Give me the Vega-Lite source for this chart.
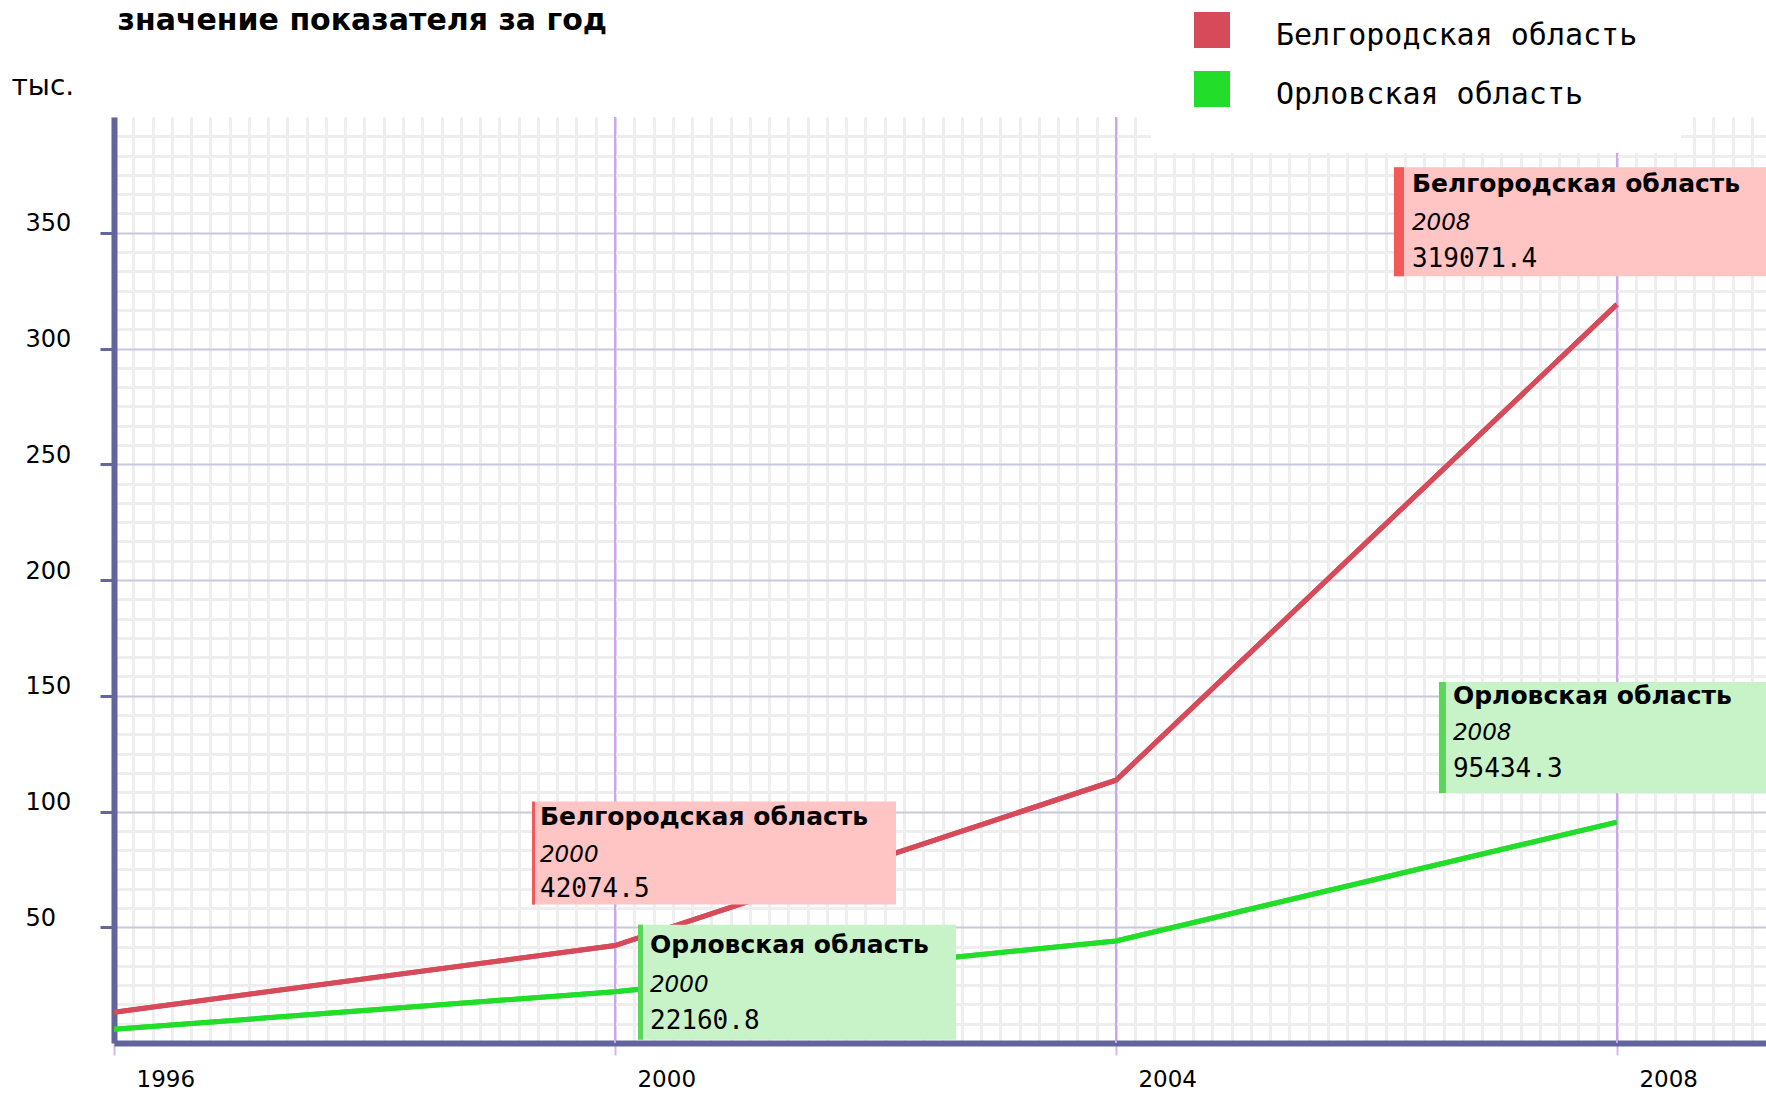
{
  "$schema": "https://vega.github.io/schema/vega-lite/v6.json",
  "autosize": {"type": "none"},
  "width": 1652,
  "height": 926,
  "padding": {"left": 114, "top": 117, "right": 0, "bottom": 50},
  "background": "white",
  "config": {"view": {"stroke": null}},
  "datasets": {
    "series": [
      {"region": "Белгородская область", "year": 1996, "value": 13300},
      {"region": "Белгородская область", "year": 2000, "value": 42074.5},
      {"region": "Белгородская область", "year": 2004, "value": 113500},
      {"region": "Белгородская область", "year": 2008, "value": 319071.4},
      {"region": "Орловская область", "year": 1996, "value": 5900},
      {"region": "Орловская область", "year": 2000, "value": 22160.8},
      {"region": "Орловская область", "year": 2004, "value": 44100},
      {"region": "Орловская область", "year": 2008, "value": 95434.3}
    ]
  },
  "data": {"name": "series"},
  "layer": [
    {
      "mark": {"type": "line", "strokeWidth": 5, "clip": true},
      "encoding": {
        "x": {
          "field": "year", "type": "quantitative",
          "scale": {"domain": [1996, 2009.19], "nice": false, "zero": false},
          "axis": {
            "values": [1996, 1996.1538, 1996.3077, 1996.4615, 1996.6154, 1996.7692, 1996.9231, 1997.0769, 1997.2308, 1997.3846, 1997.5385, 1997.6923, 1997.8462,
                       1998, 1998.1538, 1998.3077, 1998.4615, 1998.6154, 1998.7692, 1998.9231, 1999.0769, 1999.2308, 1999.3846, 1999.5385, 1999.6923, 1999.8462,
                       2000, 2000.1538, 2000.3077, 2000.4615, 2000.6154, 2000.7692, 2000.9231, 2001.0769, 2001.2308, 2001.3846, 2001.5385, 2001.6923, 2001.8462,
                       2002, 2002.1538, 2002.3077, 2002.4615, 2002.6154, 2002.7692, 2002.9231, 2003.0769, 2003.2308, 2003.3846, 2003.5385, 2003.6923, 2003.8462,
                       2004, 2004.1538, 2004.3077, 2004.4615, 2004.6154, 2004.7692, 2004.9231, 2005.0769, 2005.2308, 2005.3846, 2005.5385, 2005.6923, 2005.8462,
                       2006, 2006.1538, 2006.3077, 2006.4615, 2006.6154, 2006.7692, 2006.9231, 2007.0769, 2007.2308, 2007.3846, 2007.5385, 2007.6923, 2007.8462,
                       2008, 2008.1538, 2008.3077, 2008.4615, 2008.6154, 2008.7692, 2008.9231, 2009.0769],
            "tickCount": 1000,
            "title": "значение показателя за год",
            "titleX": 3, "titleY": -1014, "titleAlign": "left", "titleAnchor": "start", "titleBaseline": "alphabetic", "titleAngle": 0,
            "titleFont": "DejaVu Sans", "titleFontSize": 30, "titleFontWeight": "bold", "titleColor": "black",
            "grid": true,
            "gridColor": {"condition": {"test": "datum.value % 4 === 0", "value": "#c8a8e8"}, "value": "#eeeeee"},
            "gridWidth": {"condition": {"test": "datum.value % 4 === 0", "value": 2}, "value": 3},
            "domainColor": "#62649c", "domainWidth": 6,
            "tickColor": "#d0b8ee", "tickWidth": 2, "tickSize": 12,
            "tickOpacity": {"condition": {"test": "datum.value % 4 === 0", "value": 1}, "value": 0},
            "labelExpr": "datum.value % 4 === 0 ? '' + datum.value : ''",
            "labelAlign": "left", "labelOffset": 22, "labelBaseline": "middle", "labelPadding": 24,
            "labelFont": "DejaVu Sans", "labelFontSize": 23, "labelColor": "black",
            "labelOverlap": false, "labelFlush": false, "labelBound": false
          }
        },
        "y": {
          "field": "value", "type": "quantitative",
          "scale": {"domain": [0, 400000], "nice": false},
          "axis": {
            "values": [0, 8333, 16667, 25000, 33333, 41667,
                       50000, 58333, 66667, 75000, 83333, 91667,
                       100000, 108333, 116667, 125000, 133333, 141667,
                       150000, 158333, 166667, 175000, 183333, 191667,
                       200000, 208333, 216667, 225000, 233333, 241667,
                       250000, 258333, 266667, 275000, 283333, 291667,
                       300000, 308333, 316667, 325000, 333333, 341667,
                       350000, 358333, 366667, 375000, 383333, 391667],
            "tickCount": 1000,
            "title": "тыс.", "titleAngle": 0, "titleX": -103, "titleY": -31, "titleAlign": "left", "titleBaseline": "middle",
            "titleFont": "DejaVu Sans", "titleFontSize": 28, "titleFontWeight": "normal", "titleColor": "black",
            "grid": true,
            "gridColor": {"condition": {"test": "datum.value % 50000 === 0 && datum.value > 0", "value": "#c8c8de"}, "value": "#eeeeee"},
            "gridWidth": {"condition": {"test": "datum.value % 50000 === 0 && datum.value > 0", "value": 2}, "value": 3},
            "domainColor": "#62649c", "domainWidth": 6,
            "tickColor": "#6466a0", "tickWidth": 3, "tickSize": 14,
            "tickOpacity": {"condition": {"test": "datum.value % 50000 === 0 && datum.value > 0", "value": 1}, "value": 0},
            "labelExpr": "datum.value % 50000 === 0 && datum.value > 0 ? '' + (datum.value / 1000) : ''",
            "labelAlign": "left", "labelPadding": 75, "labelBaseline": "middle", "labelOffset": -9,
            "labelFont": "DejaVu Sans", "labelFontSize": 24, "labelColor": "black",
            "labelOverlap": false, "labelFlush": false, "labelBound": false
          }
        },
        "color": {
          "field": "region", "type": "nominal",
          "scale": {"domain": ["Белгородская область", "Орловская область"], "range": ["#d64a5a", "#22dd2a"]},
          "legend": {
            "title": null, "orient": "none", "legendX": 1037, "legendY": -148, "padding": 43,
            "fillColor": "white", "strokeColor": null,
            "symbolType": "square", "symbolSize": 1296, "symbolStrokeWidth": 0,
            "labelFont": "DejaVu Sans Mono", "labelFontSize": 30, "labelColor": "black", "labelOffset": 46, "labelLimit": 600,
            "rowPadding": 20,
            "encode": {
              "symbols": {"update": {"fill": {"scale": "color", "field": "value"}, "opacity": {"value": 1}, "strokeWidth": {"value": 0}}},
              "labels": {"update": {"dy": {"value": 6}}}
            }
          }
        }
      }
    },
    {
      "transform": [{"filter": "datum.year > 1996 && datum.region === 'Орловская область'"}],
      "mark": {"type": "rule", "color": "#c8a8e8", "strokeWidth": 2},
      "encoding": {"x": {"field": "year", "type": "quantitative"}}
    },
    {
      "mark": {"type": "line", "strokeWidth": 5, "clip": true},
      "encoding": {
        "x": {"field": "year", "type": "quantitative"},
        "y": {"field": "value", "type": "quantitative"},
        "color": {"field": "region", "type": "nominal"}
      }
    },
    {
      "transform": [{"filter": "datum.region === 'Белгородская область' && datum.year === 2000"}],
      "layer": [
        {"mark": {"type": "rect", "color": "#ffc4c4", "xOffset": -83, "x2Offset": 281, "yOffset": -144, "y2Offset": -41},
         "encoding": {"x": {"field": "year", "type": "quantitative"}, "x2": {"field": "year"}, "y": {"field": "value", "type": "quantitative"}, "y2": {"field": "value"}}},
        {"mark": {"type": "rect", "color": "#f25a5a", "xOffset": -83, "x2Offset": -80, "yOffset": -144, "y2Offset": -41},
         "encoding": {"x": {"field": "year", "type": "quantitative"}, "x2": {"field": "year"}, "y": {"field": "value", "type": "quantitative"}, "y2": {"field": "value"}}},
        {"mark": {"type": "text", "align": "left", "baseline": "alphabetic", "dx": -75, "dy": -121, "font": "DejaVu Sans", "fontSize": 25, "fontWeight": "bold", "color": "black"},
         "encoding": {"x": {"field": "year", "type": "quantitative"}, "y": {"field": "value", "type": "quantitative"}, "text": {"field": "region", "type": "nominal"}}},
        {"mark": {"type": "text", "align": "left", "baseline": "alphabetic", "dx": -75, "dy": -84, "font": "DejaVu Sans", "fontSize": 23, "fontStyle": "italic", "color": "black"},
         "encoding": {"x": {"field": "year", "type": "quantitative"}, "y": {"field": "value", "type": "quantitative"}, "text": {"field": "year", "type": "nominal"}}},
        {"mark": {"type": "text", "align": "left", "baseline": "alphabetic", "dx": -75, "dy": -49, "font": "DejaVu Sans Mono", "fontSize": 26, "color": "black"},
         "encoding": {"x": {"field": "year", "type": "quantitative"}, "y": {"field": "value", "type": "quantitative"}, "text": {"field": "value", "type": "nominal"}}}
      ]
    },
    {
      "transform": [{"filter": "datum.region === 'Орловская область' && datum.year === 2000"}],
      "layer": [
        {"mark": {"type": "rect", "color": "#c8f2c8", "xOffset": 23, "x2Offset": 341, "yOffset": -67, "y2Offset": 48},
         "encoding": {"x": {"field": "year", "type": "quantitative"}, "x2": {"field": "year"}, "y": {"field": "value", "type": "quantitative"}, "y2": {"field": "value"}}},
        {"mark": {"type": "rect", "color": "#5ad75a", "xOffset": 23, "x2Offset": 28, "yOffset": -67, "y2Offset": 48},
         "encoding": {"x": {"field": "year", "type": "quantitative"}, "x2": {"field": "year"}, "y": {"field": "value", "type": "quantitative"}, "y2": {"field": "value"}}},
        {"mark": {"type": "text", "align": "left", "baseline": "alphabetic", "dx": 35, "dy": -39, "font": "DejaVu Sans", "fontSize": 25, "fontWeight": "bold", "color": "black"},
         "encoding": {"x": {"field": "year", "type": "quantitative"}, "y": {"field": "value", "type": "quantitative"}, "text": {"field": "region", "type": "nominal"}}},
        {"mark": {"type": "text", "align": "left", "baseline": "alphabetic", "dx": 35, "dy": 0, "font": "DejaVu Sans", "fontSize": 23, "fontStyle": "italic", "color": "black"},
         "encoding": {"x": {"field": "year", "type": "quantitative"}, "y": {"field": "value", "type": "quantitative"}, "text": {"field": "year", "type": "nominal"}}},
        {"mark": {"type": "text", "align": "left", "baseline": "alphabetic", "dx": 35, "dy": 37, "font": "DejaVu Sans Mono", "fontSize": 26, "color": "black"},
         "encoding": {"x": {"field": "year", "type": "quantitative"}, "y": {"field": "value", "type": "quantitative"}, "text": {"field": "value", "type": "nominal"}}}
      ]
    },
    {
      "transform": [{"filter": "datum.region === 'Белгородская область' && datum.year === 2008"}],
      "layer": [
        {"mark": {"type": "rect", "color": "#ffc4c4", "xOffset": -223, "x2Offset": 200, "yOffset": -137, "y2Offset": -28},
         "encoding": {"x": {"field": "year", "type": "quantitative"}, "x2": {"field": "year"}, "y": {"field": "value", "type": "quantitative"}, "y2": {"field": "value"}}},
        {"mark": {"type": "rect", "color": "#f25a5a", "xOffset": -223, "x2Offset": -213, "yOffset": -137, "y2Offset": -28},
         "encoding": {"x": {"field": "year", "type": "quantitative"}, "x2": {"field": "year"}, "y": {"field": "value", "type": "quantitative"}, "y2": {"field": "value"}}},
        {"mark": {"type": "text", "align": "left", "baseline": "alphabetic", "dx": -205, "dy": -112, "font": "DejaVu Sans", "fontSize": 25, "fontWeight": "bold", "color": "black"},
         "encoding": {"x": {"field": "year", "type": "quantitative"}, "y": {"field": "value", "type": "quantitative"}, "text": {"field": "region", "type": "nominal"}}},
        {"mark": {"type": "text", "align": "left", "baseline": "alphabetic", "dx": -205, "dy": -74, "font": "DejaVu Sans", "fontSize": 23, "fontStyle": "italic", "color": "black"},
         "encoding": {"x": {"field": "year", "type": "quantitative"}, "y": {"field": "value", "type": "quantitative"}, "text": {"field": "year", "type": "nominal"}}},
        {"mark": {"type": "text", "align": "left", "baseline": "alphabetic", "dx": -205, "dy": -37, "font": "DejaVu Sans Mono", "fontSize": 26, "color": "black"},
         "encoding": {"x": {"field": "year", "type": "quantitative"}, "y": {"field": "value", "type": "quantitative"}, "text": {"field": "value", "type": "nominal"}}}
      ]
    },
    {
      "transform": [{"filter": "datum.region === 'Орловская область' && datum.year === 2008"}],
      "layer": [
        {"mark": {"type": "rect", "color": "#c8f2c8", "xOffset": -178, "x2Offset": 200, "yOffset": -140, "y2Offset": -29},
         "encoding": {"x": {"field": "year", "type": "quantitative"}, "x2": {"field": "year"}, "y": {"field": "value", "type": "quantitative"}, "y2": {"field": "value"}}},
        {"mark": {"type": "rect", "color": "#5ad75a", "xOffset": -178, "x2Offset": -171, "yOffset": -140, "y2Offset": -29},
         "encoding": {"x": {"field": "year", "type": "quantitative"}, "x2": {"field": "year"}, "y": {"field": "value", "type": "quantitative"}, "y2": {"field": "value"}}},
        {"mark": {"type": "text", "align": "left", "baseline": "alphabetic", "dx": -164, "dy": -118, "font": "DejaVu Sans", "fontSize": 25, "fontWeight": "bold", "color": "black"},
         "encoding": {"x": {"field": "year", "type": "quantitative"}, "y": {"field": "value", "type": "quantitative"}, "text": {"field": "region", "type": "nominal"}}},
        {"mark": {"type": "text", "align": "left", "baseline": "alphabetic", "dx": -164, "dy": -82, "font": "DejaVu Sans", "fontSize": 23, "fontStyle": "italic", "color": "black"},
         "encoding": {"x": {"field": "year", "type": "quantitative"}, "y": {"field": "value", "type": "quantitative"}, "text": {"field": "year", "type": "nominal"}}},
        {"mark": {"type": "text", "align": "left", "baseline": "alphabetic", "dx": -164, "dy": -45, "font": "DejaVu Sans Mono", "fontSize": 26, "color": "black"},
         "encoding": {"x": {"field": "year", "type": "quantitative"}, "y": {"field": "value", "type": "quantitative"}, "text": {"field": "value", "type": "nominal"}}}
      ]
    }
  ]
}
